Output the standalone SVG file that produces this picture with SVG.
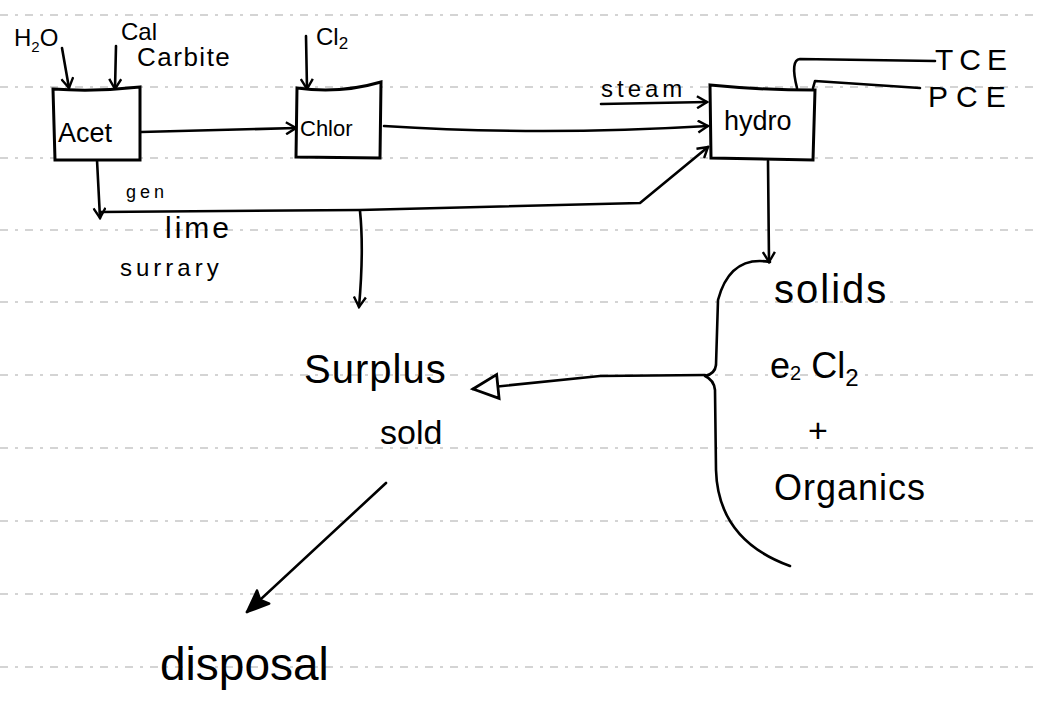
<svg xmlns="http://www.w3.org/2000/svg" width="1038" height="719" viewBox="0 0 1038 719">
<style>
.rule{stroke:#aaa;stroke-width:1.1;stroke-dasharray:8 7 3 7;fill:none}
.box{fill:#fff;stroke:#000;stroke-width:3}
.ln{fill:none;stroke:#000;stroke-width:2.6;stroke-linecap:round;stroke-linejoin:round}
.t{font-family:"Liberation Sans",Arial,sans-serif;fill:#000}
</style>
<defs>
<marker id="open" markerWidth="14" markerHeight="14" refX="12" refY="7" orient="auto" markerUnits="userSpaceOnUse"><path d="M2,1 L12,7 L2,13" fill="none" stroke="#000" stroke-width="2.4"/></marker>
<marker id="tri" markerWidth="32" markerHeight="30" refX="28" refY="15" orient="auto" markerUnits="userSpaceOnUse"><path d="M28,15 L3,3 L3,27 Z" fill="#fff" stroke="#000" stroke-width="2.8"/></marker>
<marker id="solid" markerWidth="30" markerHeight="26" refX="27" refY="13" orient="auto" markerUnits="userSpaceOnUse"><path d="M27,13 L5,4 L9,13 L5,22 Z" fill="#000" stroke="#000" stroke-width="2.4" stroke-linejoin="round"/></marker>
</defs>
<g id="rules">
<line class="rule" x1="0" y1="15" x2="1038" y2="15"/>
<line class="rule" x1="0" y1="87" x2="1038" y2="87"/>
<line class="rule" x1="0" y1="158" x2="1038" y2="158"/>
<line class="rule" x1="0" y1="230" x2="1038" y2="230"/>
<line class="rule" x1="0" y1="302" x2="1038" y2="302"/>
<line class="rule" x1="0" y1="375" x2="1038" y2="375"/>
<line class="rule" x1="0" y1="448" x2="1038" y2="448"/>
<line class="rule" x1="0" y1="521" x2="1038" y2="521"/>
<line class="rule" x1="0" y1="594" x2="1038" y2="594"/>
<line class="rule" x1="0" y1="667" x2="1038" y2="667"/>
</g>
<g id="connectors">
<path class="ln" d="M62,48 L69,88" marker-end="url(#open)"/>
<path class="ln" d="M116,46 L115,89" marker-end="url(#open)"/>
<path class="ln" d="M306,36 L307,89" marker-end="url(#open)"/>
<path class="ln" d="M141,132 L296,128" marker-end="url(#open)"/>
<path class="ln" d="M384,126 Q540,136 708,126" marker-end="url(#open)"/>
<path class="ln" d="M601,104 L707,102" marker-end="url(#open)"/>
<path class="ln" d="M97,160 L100,218" marker-end="url(#open)"/>
<path class="ln" d="M100,212 L360,210 L640,203 L708,147" marker-end="url(#open)"/>
<path class="ln" d="M360,211 Q364,250 359,307" marker-end="url(#open)"/>
<path class="ln" d="M768,161 L769,262" marker-end="url(#open)"/>
<path class="ln" d="M797,88 Q790,60 800,59 L935,61"/>
<path class="ln" d="M813,88 L815,81 L920,88"/>
<path class="ln" d="M705,375 L600,376 L473,389" marker-end="url(#tri)"/>
<path class="ln" d="M770,262 Q730,255 718,300 L716,365 Q715,374 705,376 Q714,380 715,390 L716,470 Q718,540 790,566"/>
<path class="ln" d="M386,483 L247,612" marker-end="url(#solid)"/>
</g>
<g id="node-acet"><path class="box" d="M53,89 Q95,92 140,87 L140,160 L55,160 Z"/><text class="t" x="58" y="142" font-size="27">Acet</text></g>
<g id="node-chlor"><path class="box" d="M297,88 Q340,94 381,82 L380,158 L296,157 Z"/><text class="t" x="300" y="136" font-size="22">Chlor</text></g>
<g id="node-hydro"><path class="box" d="M710,85 Q760,90 815,90 L813,160 L711,158 Z"/><text class="t" x="724" y="130" font-size="27">hydro</text></g>
<g id="label-h2o"><text class="t" x="14" y="46" font-size="24">H<tspan font-size="15" dy="6">2</tspan><tspan dy="-6">O</tspan></text></g>
<g id="label-cal"><text class="t" x="121" y="40" font-size="24">Cal</text><text class="t" x="137" y="66" font-size="26" letter-spacing="1.5">Carbite</text></g>
<g id="label-cl2"><text class="t" x="316" y="45" font-size="24">Cl<tspan font-size="17" dy="4">2</tspan></text></g>
<g id="label-steam"><text class="t" x="601" y="97" font-size="24" letter-spacing="4">steam</text></g>
<g id="label-tce"><text class="t" x="935" y="70" font-size="30" letter-spacing="6">TCE</text></g>
<g id="label-pce"><text class="t" x="928" y="107" font-size="30" letter-spacing="8">PCE</text></g>
<g id="label-gen"><text class="t" x="126" y="198" font-size="18" letter-spacing="4">gen</text></g>
<g id="label-lime"><text class="t" x="165" y="238" font-size="30" letter-spacing="3">lime</text></g>
<g id="label-surrary"><text class="t" x="120" y="276" font-size="24" letter-spacing="4">surrary</text></g>
<g id="label-surplus"><text class="t" x="304" y="383" font-size="40" letter-spacing="1">Surplus</text></g>
<g id="label-sold"><text class="t" x="380" y="444" font-size="34">sold</text></g>
<g id="label-disposal"><text class="t" x="160" y="680" font-size="46">disposal</text></g>
<g id="label-solids"><text class="t" x="774" y="303" font-size="40" letter-spacing="2">solids</text></g>
<g id="label-e2cl2"><text class="t" x="770" y="378" font-size="36">e<tspan font-size="20" dy="2">2</tspan><tspan dy="-2"> Cl</tspan><tspan font-size="24" dy="8">2</tspan></text></g>
<g id="label-plus"><text class="t" x="808" y="442" font-size="34">+</text></g>
<g id="label-organics"><text class="t" x="774" y="500" font-size="36" letter-spacing="1">Organics</text></g>
</svg>
